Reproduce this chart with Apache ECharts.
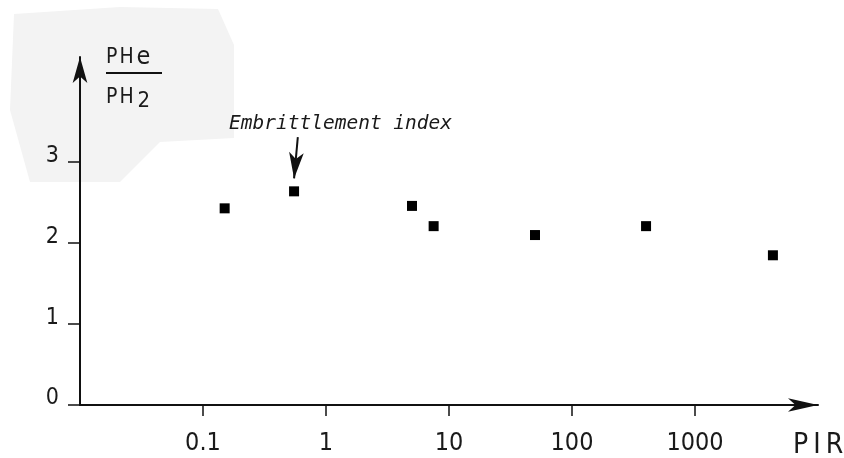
<!DOCTYPE html>
<html>
<head>
<meta charset="utf-8">
<script src="https://cdn.jsdelivr.net/npm/echarts@6/dist/echarts.min.js"></script>
<style>
  html, body { margin: 0; padding: 0; background: #fff; }
  #chart { width: 844px; height: 458px; }
</style>
</head>
<body>
<div id="chart"></div>
<script>
// PIR values (log scale) and PHe / PH2 ratios
const pir = [0.15, 0.55, 5, 7.5, 50, 400, 4300];
const ratio = [2.43, 2.64, 2.46, 2.21, 2.10, 2.21, 1.85];
const xTicks = [0.1, 1, 10, 100, 1000];
const yTicks = [0, 1, 2, 3];
// arrow for the "Embrittlement index" note: [from, to] in data units
const noteArrow = [[0.59, 3.31], [0.55, 2.8]];

const chart = echarts.init(document.getElementById('chart'));

const ink = '#111';
const txt = '#1a1a1a';
const font = '"DejaVu Sans Condensed", "Liberation Sans", sans-serif';

const option = {
    backgroundColor: '#fff',
    animation: false,
    grid: { left: 80, right: 26, top: 57, bottom: 53, outerBoundsMode: 'none' },
    xAxis: {
        type: 'log',
        min: 0.01,
        max: 10000,
        logBase: 10,
        splitLine: { show: false },
        axisLine: {
            lineStyle: { color: ink, width: 2 },
            symbol: ['none', 'arrow'],
            symbolSize: [10, 30],
            symbolOffset: [0, 0]
        },
        axisTick: {
            customValues: xTicks,
            length: 11,
            lineStyle: { color: ink, width: 1.5 }
        },
        axisLabel: {
            customValues: xTicks,
            margin: 26,
            color: txt,
            fontSize: 25,
            fontFamily: font,
            formatter: v => String(v)
        },
        name: 'P\u2009I\u2009R',
        nameLocation: 'end',
        nameGap: -25,
        nameTextStyle: {
            color: txt,
            fontSize: 28,
            fontFamily: font,
            verticalAlign: 'top',
            padding: [27, 0, 0, 0]
        }
    },
    yAxis: {
        type: 'value',
        min: 0,
        max: 4.3,
        splitLine: { show: false },
        axisLine: {
            show: true,
            lineStyle: { color: ink, width: 2 },
            symbol: ['none', 'arrow'],
            symbolSize: [11, 26],
            symbolOffset: [0, 0]
        },
        axisTick: {
            show: true,
            customValues: yTicks,
            length: 12,
            lineStyle: { color: ink, width: 1.5 }
        },
        axisLabel: {
            customValues: yTicks,
            margin: 21,
            color: txt,
            fontSize: 23,
            fontFamily: font,
            verticalAlign: 'bottom',
            lineHeight: 13
        }
    },
    graphic: [
        {
            type: 'polygon', z: -10, silent: true,
            shape: { points: [[14, 14], [120, 7], [218, 9], [234, 45], [234, 138], [160, 142], [120, 182], [30, 182], [10, 110]] },
            style: { fill: '#f3f3f3' }
        },
        {
            type: 'text', left: 106, top: 45,
            style: {
                text: '{p|P}{m|H}{s|e}',
                rich: {
                    p: { fontSize: 21, fontFamily: font, fill: txt, padding: [0, 2, 0, 0] },
                    m: { fontSize: 21, fontFamily: font, fill: txt, padding: [0, 3, 0, 0] },
                    s: { fontSize: 25, fontFamily: font, fill: txt }
                }
            }
        },
        {
            type: 'line',
            shape: { x1: 106, y1: 73, x2: 162, y2: 73 },
            style: { stroke: ink, lineWidth: 2 }
        },
        {
            type: 'text', left: 106, top: 87,
            style: {
                text: '{p|P}{m|H}{s|2}',
                rich: {
                    p: { fontSize: 21, fontFamily: font, fill: txt, padding: [0, 2, 0, 0] },
                    m: { fontSize: 21, fontFamily: font, fill: txt, padding: [0, 4, 0, 0] },
                    s: { fontSize: 22, fontFamily: font, fill: txt, padding: [8, 0, 0, 0] }
                }
            }
        },
        {
            type: 'text', left: 229, top: 114,
            style: {
                text: 'Embrittlement index',
                font: 'italic 19.5px "DejaVu Sans Mono", monospace',
                fill: txt
            }
        }
    ],
    series: [
        {
            type: 'scatter',
            data: pir.map((x, i) => [x, ratio[i]]),
            symbol: 'rect',
            symbolSize: 10,
            itemStyle: { color: '#000', opacity: 1 },
            markLine: {
                silent: true,
                symbol: ['none', 'arrow'],
                symbolSize: [11, 26],
                label: { show: false },
                lineStyle: { color: ink, width: 2, type: 'solid' },
                data: [[
                    { coord: noteArrow[0] },
                    { coord: noteArrow[1] }
                ]]
            }
        }
    ]
};

chart.setOption(option);
</script>
</body>
</html>
